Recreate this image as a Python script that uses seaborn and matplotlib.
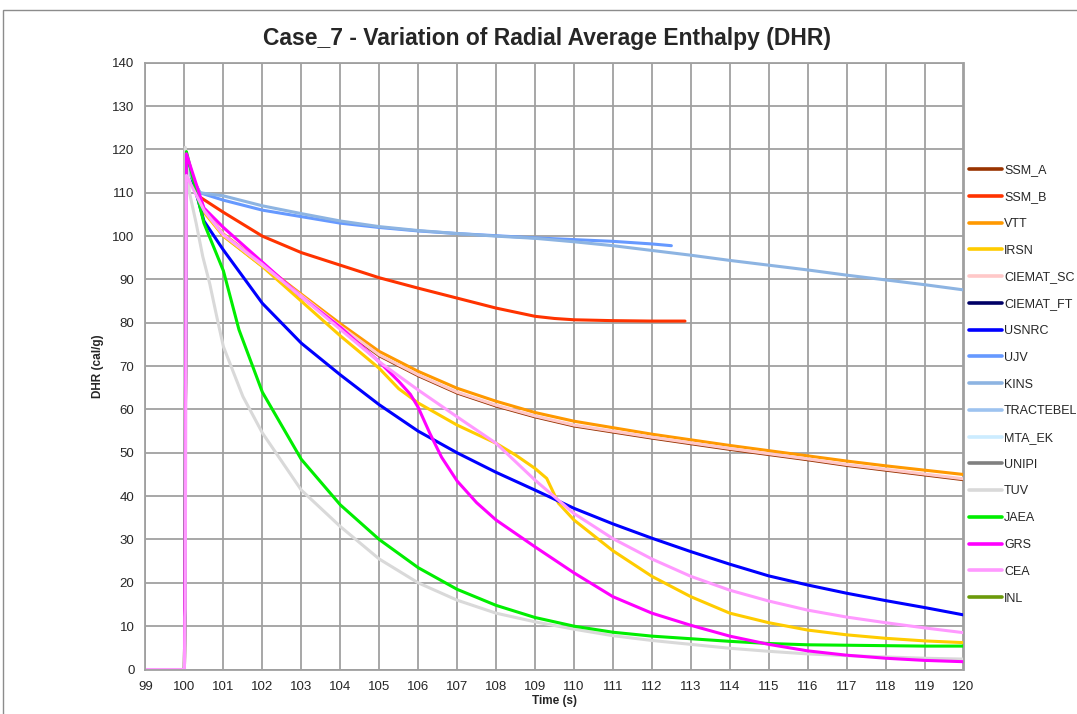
import matplotlib
matplotlib.use('Agg')
import matplotlib.pyplot as plt
from matplotlib.lines import Line2D
from matplotlib.patches import Rectangle
import seaborn as sns
import pandas as pd

series_names = ['SSM_A', 'SSM_B', 'VTT', 'IRSN', 'CIEMAT_SC', 'CIEMAT_FT', 'USNRC', 'UJV', 'KINS',
                'TRACTEBEL', 'MTA_EK', 'UNIPI', 'TUV', 'JAEA', 'GRS', 'CEA', 'INL']
series_colors = ['#993300', '#FF3300', '#FF9900', '#FFCC00', '#FFC8C8', '#000066', '#0000FF', '#6699FF',
                 '#8DB4E2', '#9DC3F0', '#CCECFF', '#808080', '#D9D9D9', '#00EE00', '#FF00FF', '#FF99FF', '#6B9A0A']

# common time grid (s)
t_std = [100.0, 100.05, 100.5, 101, 102, 103, 104, 105, 106, 107, 108, 109, 110,
         111, 112, 113, 114, 115, 116, 117, 118, 119, 120]

ssm_a = [0, 118, 106, 100.1, 93.1, 86.1, 79.0, 72.4, 67.8, 63.8, 60.8, 58.3, 56.2,
         54.8, 53.4, 52.1, 50.8, 49.6, 48.4, 47.1, 46.0, 44.9, 43.8]
ciemat_sc = [0, 118, 106, 100.3, 93.3, 86.3, 79.2, 72.6, 68.0, 64.0, 61.0, 58.5, 56.4,
             55.0, 53.6, 52.3, 51.0, 49.8, 48.6, 47.3, 46.2, 45.1, 44.0]
vtt = [0, 118, 106, 100.5, 93.5, 86.6, 79.8, 73.4, 68.8, 64.9, 61.9, 59.3, 57.3,
       55.8, 54.3, 53.0, 51.7, 50.5, 49.3, 48.1, 47.0, 46.0, 45.0]
usnrc = [0, 118, 103.5, 96.8, 84.5, 75.3, 68.0, 61.1, 55.0, 50.0, 45.5, 41.4, 37.2,
         33.6, 30.3, 27.2, 24.3, 21.6, 19.5, 17.6, 15.9, 14.3, 12.6]

ssm_b_t = [100.0, 100.05, 100.4, 101, 102, 103, 104, 105, 106, 107, 108, 109, 109.5,
           110, 111, 112, 112.85]
ssm_b = [0, 118, 109, 105.5, 100, 96.2, 93.3, 90.4, 88.0, 85.7, 83.4, 81.5, 81.0,
         80.7, 80.5, 80.4, 80.4]

irsn_t = [100.0, 100.05, 100.5, 101, 102, 103, 104, 105, 105.5, 106, 107, 108, 108.5,
          109, 109.3, 109.6, 110, 111, 112, 113, 114, 115, 116, 117, 118, 119, 120]
irsn = [0, 117, 105.5, 100, 93, 85, 77, 69.5, 64.8, 61.5, 56.4, 52.2, 49.5,
        46.4, 44.1, 38.4, 34.5, 27.4, 21.5, 16.8, 13.0, 10.8, 9.1, 8.0, 7.2, 6.6, 6.2]

kins_t = [100.0, 100.05, 100.4, 101, 102, 103, 104, 105, 106, 107, 108, 109, 110,
          111, 112, 113, 114, 115, 116, 117, 118, 119, 120]
kins = [0, 116, 110, 109.3, 107, 105.2, 103.5, 102.2, 101.3, 100.6, 100.0, 99.5, 98.7,
        97.8, 96.7, 95.6, 94.4, 93.3, 92.2, 91.0, 89.9, 88.8, 87.6]

ujv_t = [100.0, 100.05, 100.4, 101, 102, 103, 104, 105, 106, 107, 108, 109, 110,
         111, 112, 112.5]
ujv = [0, 116, 110, 108.3, 106.0, 104.5, 103.0, 102.0, 101.2, 100.6, 100.1, 99.6, 99.2,
       98.8, 98.2, 97.8]

tuv_t = [100.0, 100.02, 100.13, 100.3, 100.47, 100.65, 100.83, 101, 101.5, 102, 103, 104,
         105, 106, 107, 108, 109, 110, 111, 112, 113, 114, 115, 116, 117, 118, 119, 120]
tuv = [0, 120.5, 110, 103, 95.3, 89, 81.4, 74.5, 63, 54.6, 41.4, 33,
       25.5, 20, 16, 13, 11, 9.3, 7.8, 6.7, 5.8, 4.9, 4.2, 3.6, 3.2, 2.9, 2.6, 2.4]

jaea_t = [100.0, 100.05, 100.5, 101, 101.4, 102, 103, 104, 105, 106, 107, 108, 109, 110,
          111, 112, 113, 114, 115, 116, 117, 118, 119, 120]
jaea = [0, 119.5, 103, 92, 78.4, 64, 48.5, 38, 30, 23.5, 18.5, 14.8, 12.0, 10.0,
        8.6, 7.7, 7.1, 6.5, 6.0, 5.7, 5.6, 5.5, 5.4, 5.4]

grs_t = [100.0, 100.05, 100.5, 101, 102, 103, 104, 105, 105.5, 105.8, 106.0, 106.3, 106.6,
         107.0, 107.5, 108, 109, 110, 111, 112, 113, 114, 115, 116, 117, 118, 119, 120]
grs = [0, 119, 106.5, 102, 94, 86, 79, 71, 66.5, 63.5, 60.5, 54.5, 49.0,
       43.5, 38.5, 34.5, 28.3, 22.3, 16.8, 13.0, 10.2, 7.7, 5.8, 4.3, 3.3, 2.6, 2.1, 1.8]

cea_t = [99, 100, 100.01, 100.02, 100.05, 100.5, 101, 102, 103, 104, 105, 106, 107,
         108, 109, 110, 111, 112, 113, 114, 115, 116, 117, 118, 119, 120]
cea = [0, 0, 12, 14, 114, 106, 100.3, 93.5, 86, 78.5, 71, 64.5, 58.3,
       52.2, 43.7, 36.0, 30.2, 25.5, 21.5, 18.3, 15.8, 13.7, 12.1, 10.8, 9.6, 8.5]

# series without visible curves (CIEMAT_FT, TRACTEBEL, MTA_EK, UNIPI, INL) only appear in the legend
series_data = {
    'SSM_A': (t_std, ssm_a), 'SSM_B': (ssm_b_t, ssm_b), 'VTT': (t_std, vtt),
    'IRSN': (irsn_t, irsn), 'CIEMAT_SC': (t_std, ciemat_sc),
    'USNRC': (t_std, usnrc), 'UJV': (ujv_t, ujv), 'KINS': (kins_t, kins),
    'TUV': (tuv_t, tuv), 'JAEA': (jaea_t, jaea), 'GRS': (grs_t, grs), 'CEA': (cea_t, cea),
}

rows = []
for name in series_names:
    if name in series_data:
        ts, vs = series_data[name]
        for i, (t, v) in enumerate(zip(ts, vs)):
            rows.append((name, i, t, v))
df = pd.DataFrame(rows, columns=['series', 'idx', 'time', 'dhr'])

palette = dict(zip(series_names, series_colors))
hue_order = [n for n in series_names if n in series_data]

sns.set_style('white')
plt.rcParams['font.family'] = ['Liberation Sans', 'DejaVu Sans']

fig = plt.figure(figsize=(10.77, 7.14), dpi=100)
ax = fig.add_axes([145.5 / 1077, 1 - 669.5 / 714, 818 / 1077, 606.7 / 714])

sns.lineplot(data=df, x='time', y='dhr', hue='series', hue_order=hue_order, palette=palette,
             units='series', estimator=None, sort=False, lw=2.2, legend=False, ax=ax)

ax.set_xlim(99, 120)
ax.set_ylim(0, 140)
ax.set_xticks(range(99, 121))
ax.set_yticks(range(0, 141, 10))
ax.grid(True, color='#A0A0A0', lw=1.3)
ax.set_axisbelow(True)
for sp in ax.spines.values():
    sp.set_color('#A0A0A0')
    sp.set_linewidth(1.3)
ax.tick_params(direction='out', length=5, color='#868686', labelsize=9.5, pad=3)
ax.set_xlabel('Time (s)', fontsize=8.5, fontweight='bold', labelpad=2)
ax.set_ylabel('DHR (cal/g)', fontsize=8.5, fontweight='bold', labelpad=6)

fig.text(547 / 1077, 1 - 38 / 714, 'Case_7 - Variation of Radial Average Enthalpy (DHR)',
         ha='center', va='center', fontsize=16.5, fontweight='bold')

handles = [Line2D([], [], color=c, lw=2.6) for c in series_colors]
fig.legend(handles, series_names, loc='center left', bbox_to_anchor=(969 / 1077, 1 - 384.5 / 714),
           frameon=False, fontsize=9, handlelength=2.6, handletextpad=0.2,
           labelspacing=1.18, borderpad=0, borderaxespad=0)

fig.patches.append(Rectangle((3.5 / 1077, -0.05), 1.2, 1 - 9.5 / 714 + 0.05, transform=fig.transFigure,
                             fill=False, edgecolor='#8C8C8C', lw=1))

fig.savefig('out.png', dpi=100)
